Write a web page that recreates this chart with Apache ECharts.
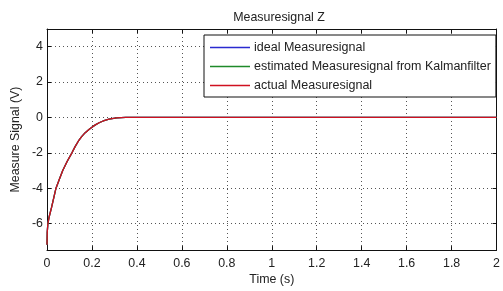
<!DOCTYPE html>
<html><head><meta charset="utf-8">
<script src="https://cdn.jsdelivr.net/npm/echarts@6/dist/echarts.min.js"></script>
<style>html,body{margin:0;padding:0;background:#fff}#c{width:503px;height:291px}</style>
</head><body><div id="c"></div>
<script>
const timeS = [0, 0.001, 0.004, 0.01, 0.02, 0.03, 0.04, 0.055, 0.07, 0.09, 0.111, 0.125, 0.14, 0.155, 0.17, 0.188, 0.2, 0.215, 0.232, 0.25, 0.276, 0.31, 0.35, 0.4, 0.6, 0.8, 1.0, 1.2, 1.4, 1.6, 1.8, 2.0];
const idealSig = [-7.2, -6.5, -6.0, -5.6, -5.1, -4.55, -4.0, -3.5, -3.0, -2.48, -2.0, -1.65, -1.33, -1.07, -0.86, -0.67, -0.55, -0.42, -0.3, -0.2, -0.1, -0.03, 0, 0, 0, 0, 0, 0, 0, 0, 0, 0];
const estimatedSig = [-7.2, -6.5, -6.0, -5.6, -5.1, -4.55, -4.0, -3.5, -3.0, -2.48, -2.0, -1.65, -1.33, -1.07, -0.86, -0.67, -0.55, -0.42, -0.3, -0.2, -0.1, -0.03, 0, 0, 0, 0, 0, 0, 0, 0, 0, 0];
const actualSig = [-7.2, -6.5, -6.0, -5.6, -5.1, -4.55, -4.0, -3.5, -3.0, -2.48, -2.0, -1.65, -1.33, -1.07, -0.86, -0.67, -0.55, -0.42, -0.3, -0.2, -0.1, -0.03, 0, 0, 0, 0, 0, 0, 0, 0, 0, 0];
const yTicks = [-6, -4, -2, 0, 2, 4];
const seriesNames = ['ideal Measuresignal', 'estimated Measuresignal from Kalmanfilter', 'actual Measuresignal'];
const seriesColors = ['#2a2ad0', '#1f8a2a', '#d01020'];

const zip = (xs, ys) => xs.map((x, i) => [x, ys[i]]);
const font = 'Liberation Sans, Arial, sans-serif';
const fs = 12.4;
const chart = echarts.init(document.getElementById('c'));
const dotted = {show: true, lineStyle: {color: '#555', type: [1, 3], width: 1}};
const axLine = {show: true, onZero: false, lineStyle: {color: '#111', width: 1}};
chart.setOption({
  animation: false,
  title: {text: 'Measuresignal Z', left: 274, textAlign: 'center', top: 7,
    textStyle: {fontFamily: font, fontSize: fs, fontWeight: 'normal', color: '#222'}},
  legend: {
    left: 204, top: 35, orient: 'vertical', itemGap: 6,
    backgroundColor: '#fff', borderColor: '#111', borderWidth: 1, borderRadius: 0,
    padding: [6, 5, 5, 6], itemWidth: 40, itemHeight: 1.5, icon: 'rect',
    textStyle: {fontFamily: font, fontSize: 12.5, color: '#222', padding: [0, 0, 0, -1]},
    data: seriesNames
  },
  grid: {left: 47, right: 1, top: 29, bottom: 33},
  xAxis: [{
    type: 'value', min: 0, max: 2, interval: 0.2,
    name: 'Time (s)', nameLocation: 'middle', nameGap: 21,
    nameTextStyle: {fontFamily: font, fontSize: fs, color: '#222'},
    axisLine: axLine,
    axisTick: {show: true, inside: true, length: 4, lineStyle: {color: '#111'}},
    axisLabel: {fontFamily: font, fontSize: fs, color: '#222', margin: 7,
      formatter: v => String(Math.round(v * 10) / 10)},
    splitLine: dotted
  }, {
    type: 'value', min: 0, max: 2, interval: 0.2, position: 'top',
    axisLine: axLine,
    axisTick: {show: true, inside: true, length: 4, lineStyle: {color: '#111'}},
    axisLabel: {show: false}, splitLine: {show: false}
  }],
  yAxis: [{
    type: 'value', min: -7.5, max: 5,
    name: 'Measure Signal (V)', nameLocation: 'middle', nameGap: 23,
    nameTextStyle: {fontFamily: font, fontSize: fs, color: '#222'},
    axisLine: axLine,
    axisTick: {show: true, inside: true, length: 4, customValues: yTicks, lineStyle: {color: '#111'}},
    axisLabel: {fontFamily: font, fontSize: fs, color: '#222', margin: 4, customValues: yTicks},
    splitLine: dotted
  }, {
    type: 'value', min: -7.5, max: 5, position: 'right',
    axisLine: axLine,
    axisTick: {show: true, inside: true, length: 4, customValues: yTicks, lineStyle: {color: '#111'}},
    axisLabel: {show: false, customValues: yTicks}, splitLine: {show: false}
  }],
  series: [
    {name: seriesNames[0], type: 'line', data: zip(timeS, idealSig), showSymbol: false,
      lineStyle: {color: seriesColors[0], width: 1.3}, itemStyle: {color: seriesColors[0]}},
    {name: seriesNames[1], type: 'line', data: zip(timeS, estimatedSig), showSymbol: false,
      lineStyle: {color: seriesColors[1], width: 1.3}, itemStyle: {color: seriesColors[1]}},
    {name: seriesNames[2], type: 'line', data: zip(timeS, actualSig), showSymbol: false,
      lineStyle: {color: seriesColors[2], width: 1.3}, itemStyle: {color: seriesColors[2]}}
  ]
});
</script></body></html>
